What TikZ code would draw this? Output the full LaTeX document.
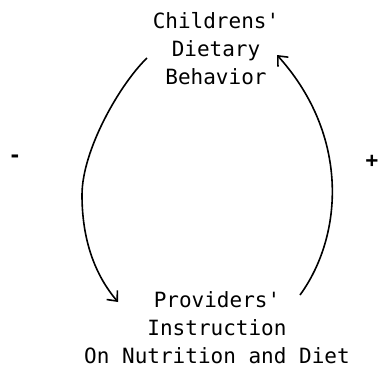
\documentclass[tikz,border=0pt]{standalone}
\usepackage{fontspec}
\usepackage{tikz}
\usetikzlibrary{arrows.meta}
\setmonofont{DejaVu Sans Mono}
\definecolor{inkcolor}{RGB}{0,0,0}

\begin{document}
\begin{tikzpicture}[x=1pt,y=-1pt,
        label/.style={font=\ttfamily\fontsize{21}{28}\selectfont, inner sep=0pt, align=center},
        sign/.style={font=\ttfamily\bfseries\fontsize{21}{28}\selectfont, inner sep=0pt},
        loop/.style={inkcolor, line width=1.6pt, -{Straight Barb[length=8pt,width=14pt]}}]
            \useasboundingbox (0,0) rectangle (378,370);
            % the two boxes of text
            \node[label, anchor=north] (children) at (216,12) {Childrens'\\Dietary\\Behavior};
            \node[label, anchor=north] (providers) at (217,291) {Providers'\\Instruction\\On Nutrition and Diet};
            % signs of the two links
            \node[sign] (minus) at (15,159) {-};
            \node[sign] (plus) at (372,161) {+};
            % ends of the arcs
            \coordinate (ltop) at (147,58);
            \coordinate (lmid) at (82,195);
            \coordinate (lend) at (118,302);
            \coordinate (rstart) at (300,295);
            \coordinate (rend) at (277,55);
            \draw[loop] (ltop) .. controls (120,84) and (82,150) .. (lmid)
                .. controls (82,240) and (95,275) .. (lend);
            \draw[loop] (rstart) .. controls (343,236) and (350,136) .. (rend);
        \end{tikzpicture}
\end{document}
